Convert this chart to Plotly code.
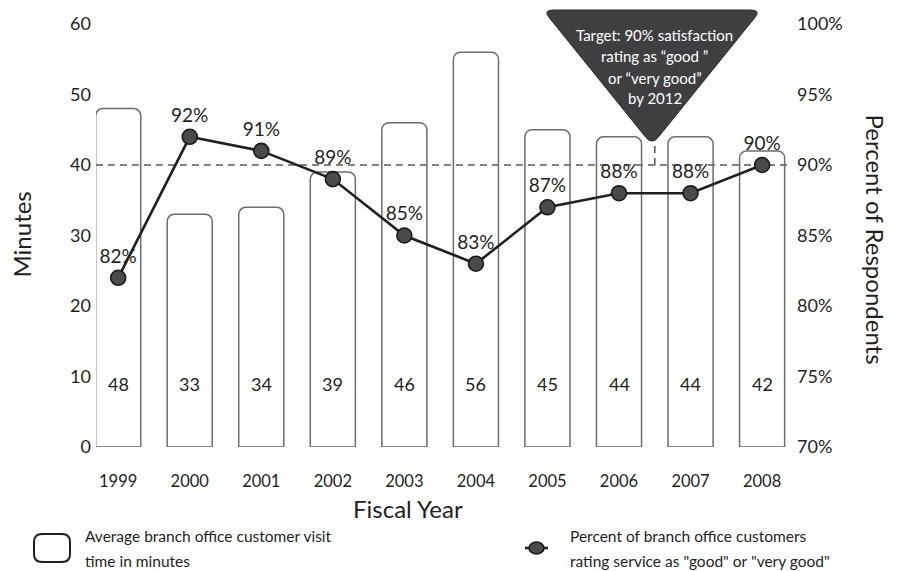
import math
import plotly.graph_objects as go

# Fiscal years and the two measured series
years = ["1999", "2000", "2001", "2002", "2003", "2004", "2005", "2006", "2007", "2008"]
visit_minutes = [48, 33, 34, 39, 46, 56, 45, 44, 44, 42]
satisfaction_pct = [82, 92, 91, 89, 85, 83, 87, 88, 88, 90]

minute_ticks = [0, 10, 20, 30, 40, 50, 60]
pct_ticks = [70, 75, 80, 85, 90, 95, 100]
pct_tick_labels = [f"{v}%" for v in pct_ticks]
target_pct = 90

FONT = "Lato"
TXT = "#231f20"

# plot-area geometry in pixels (used for decorations only)
W, H = 900, 571
L, R, T, B = 96, 110, 21, 124
PW, PH = W - L - R, H - T - B


def px(x, y):
    """pixel offset (from plot-area bottom-left) for pixel-anchored shapes"""
    return x - L, (H - B) - y


def paper_xy(x, y):
    return (x - L) / PW, ((H - B) - y) / PH


def rounded_poly(points, r):
    """closed SVG path through points with rounded corners of radius r"""
    n = len(points)
    segs = []
    for i in range(n):
        p0 = points[i - 1]
        p1 = points[i]
        p2 = points[(i + 1) % n]
        d1 = math.hypot(p0[0] - p1[0], p0[1] - p1[1])
        d2 = math.hypot(p2[0] - p1[0], p2[1] - p1[1])
        a = (p1[0] + (p0[0] - p1[0]) * r / d1, p1[1] + (p0[1] - p1[1]) * r / d1)
        b = (p1[0] + (p2[0] - p1[0]) * r / d2, p1[1] + (p2[1] - p1[1]) * r / d2)
        segs.append((a, p1, b))
    path = f"M {segs[0][0][0]:.1f},{segs[0][0][1]:.1f} "
    for i, (a, c, b) in enumerate(segs):
        if i > 0:
            path += f"L {a[0]:.1f},{a[1]:.1f} "
        path += f"Q {c[0]:.1f},{c[1]:.1f} {b[0]:.1f},{b[1]:.1f} "
    path += "Z"
    return path


fig = go.Figure()

# visit-time bars (outline only, so the target line shows through)
fig.add_trace(go.Bar(
    x=years, y=visit_minutes, width=0.63,
    marker=dict(color="rgba(255,255,255,0)", line=dict(color="#6d6d6d", width=1.5), cornerradius=7),
    hoverinfo="skip", showlegend=False,
))

# satisfaction line on the right axis
fig.add_trace(go.Scatter(
    x=years, y=satisfaction_pct, yaxis="y2",
    mode="lines+markers+text",
    line=dict(color="#231f20", width=2.6),
    marker=dict(symbol="circle", size=15, color="#4a4a4c", line=dict(color="#1a1a1a", width=1.6)),
    text=[f"{v}%" for v in satisfaction_pct],
    textposition="top center",
    textfont=dict(family=FONT, size=19, color=TXT),
    showlegend=False, cliponaxis=False,
))

# bar value labels inside each bar (category index as x)
for i, v in enumerate(visit_minutes):
    fig.add_annotation(x=i, xref="x", y=9, yref="y", text=str(v), showarrow=False,
                       xanchor="center", yanchor="middle",
                       font=dict(family=FONT, size=18, color=TXT))

shapes = []
# target reference line
shapes.append(dict(type="line", xref="paper", x0=0, x1=1, yref="y2", y0=target_pct, y1=target_pct,
                   line=dict(color="#5a5a5a", width=1.6, dash="7px,5px"), layer="below"))
# short dashed drop from the callout to the target line
shapes.append(dict(type="line", xref="x", x0=7.5, x1=7.5, yref="y2", y0=target_pct, y1=91.7,
                   line=dict(color="#5a5a5a", width=1.6, dash="7px,5px"), layer="below"))
# callout triangle
tri = [px(543, 10), px(761, 10), px(652, 145)]
shapes.append(dict(type="path", xref="paper", yref="paper", xsizemode="pixel", ysizemode="pixel",
                   xanchor=0, yanchor=0, path=rounded_poly(tri, 10),
                   fillcolor="#3f3f41", line=dict(color="#2b2b2b", width=1)))
# legend swatch for bars
box = [px(34, 534), px(70, 534), px(70, 562), px(34, 562)]
shapes.append(dict(type="path", xref="paper", yref="paper", xsizemode="pixel", ysizemode="pixel",
                   xanchor=0, yanchor=0, path=rounded_poly(box, 8),
                   fillcolor="white", line=dict(color="#231f20", width=2)))
# legend swatch for line
lx0, ly = px(525, 548)
lx1, _ = px(548, 548)
shapes.append(dict(type="line", xref="paper", yref="paper", xsizemode="pixel", ysizemode="pixel",
                   xanchor=0, yanchor=0, x0=lx0, x1=lx1, y0=ly, y1=ly,
                   line=dict(color="#231f20", width=2.6)))
ex0, ey0 = px(529, 542)
ex1, ey1 = px(544, 554)
shapes.append(dict(type="circle", xref="paper", yref="paper", xsizemode="pixel", ysizemode="pixel",
                   xanchor=0, yanchor=0, x0=ex0, x1=ex1, y0=ey0, y1=ey1,
                   fillcolor="#4a4a4c", line=dict(color="#1a1a1a", width=1.6)))
fig.update_layout(shapes=shapes)

# callout text
for line_txt, yy in [("Target: 90% satisfaction", 32), ("rating as \u201cgood \u201d", 53),
                     ("or \u201cvery good\u201d", 75), ("by 2012", 96)]:
    _, yp = paper_xy(0, yy)
    fig.add_annotation(x=7.5, xref="x", y=yp, yref="paper", text=line_txt, showarrow=False,
                       xanchor="center", yanchor="middle",
                       font=dict(family=FONT, size=15, color="white"))

# axis titles
for txt, (x, y), ang in [("Minutes", (22, 233), -90), ("Percent of Respondents", (876, 238), 90),
                         ("Fiscal Year", (408, 509), 0)]:
    xa, ya = paper_xy(x, y)
    fig.add_annotation(x=xa, y=ya, xref="paper", yref="paper", text=txt, textangle=ang,
                       xanchor="center", yanchor="middle", showarrow=False,
                       font=dict(family=FONT, size=24, color=TXT))

# legend text
for txt, (x, y) in [("Average branch office customer visit", (83, 537)), ("time in minutes", (83, 562)),
                    ("Percent of branch office customers", (568, 537)),
                    ("rating service as \"good\" or \"very good\"", (568, 562))]:
    xp, yp = paper_xy(x, y)
    fig.add_annotation(x=xp, y=yp, xref="paper", yref="paper", text=txt, showarrow=False,
                       xanchor="left", yanchor="middle", font=dict(family=FONT, size=15.5, color=TXT))

fig.update_layout(
    width=W, height=H, autosize=False,
    margin=dict(l=L, r=R, t=T, b=B),
    paper_bgcolor="white", plot_bgcolor="white",
    barmode="overlay",
    font=dict(family=FONT, color=TXT),
    xaxis=dict(type="category", range=[-0.31, 9.39], showgrid=False, zeroline=False, showline=False,
               ticks="", ticklabelstandoff=22, tickfont=dict(size=16.5, color=TXT)),
    yaxis=dict(range=[0, 60], tickvals=minute_ticks, showgrid=False, zeroline=False, showline=False,
               ticks="", ticklabelstandoff=4, tickfont=dict(size=18, color=TXT)),
    yaxis2=dict(range=[70, 100], tickvals=pct_ticks, ticktext=pct_tick_labels, overlaying="y",
                side="right", showgrid=False, zeroline=False, showline=False, ticks="",
                ticklabelstandoff=6, tickfont=dict(size=18, color=TXT)),
)

fig.write_html("out.html")
